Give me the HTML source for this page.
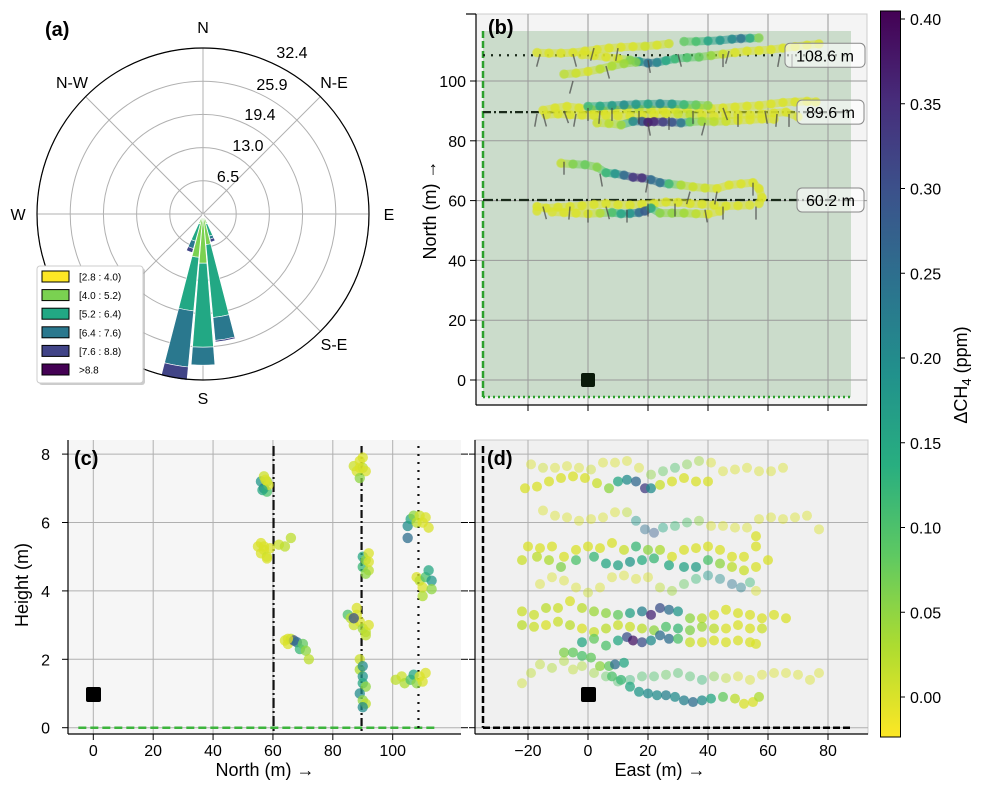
<!DOCTYPE html>
<html><head><meta charset="utf-8"><style>
body{margin:0;background:#fff;}
svg{display:block;font-family:"Liberation Sans","DejaVu Sans",sans-serif;}
</style></head><body>
<svg id="fig" width="982" height="788" viewBox="0 0 982 788" xmlns="http://www.w3.org/2000/svg">
<defs>
<linearGradient id="cbgrad" x1="0" y1="1" x2="0" y2="0">
<stop offset="0" stop-color="#fde725"/><stop offset="0.125" stop-color="#addc30"/><stop offset="0.25" stop-color="#5ec962"/><stop offset="0.375" stop-color="#28ae80"/><stop offset="0.5" stop-color="#21918c"/><stop offset="0.625" stop-color="#2c728e"/><stop offset="0.75" stop-color="#3b528b"/><stop offset="0.875" stop-color="#472d7b"/><stop offset="1" stop-color="#440154"/>
</linearGradient>
<clipPath id="clipB"><rect x="476" y="14" width="391" height="391"/></clipPath>
<clipPath id="clipC"><rect x="68" y="440" width="393" height="294"/></clipPath>
<clipPath id="clipD"><rect x="475" y="440" width="393" height="294"/></clipPath>
</defs>

<g id="panelA">
<circle cx="203" cy="214" r="166" fill="#fff" stroke="none"/>
<g id="aGrid" stroke="#b0b0b0" stroke-width="1" fill="none"></g>
<g id="aBars"></g>
<circle cx="203" cy="214" r="166" fill="none" stroke="#000" stroke-width="1.2"/>
<text x="45" y="36" font-size="20" font-weight="bold">(a)</text>
<g font-size="16" text-anchor="middle" fill="#000">
<text x="203" y="33">N</text>
<text x="334" y="88">N-E</text>
<text x="389" y="220">E</text>
<text x="334" y="350">S-E</text>
<text x="203" y="404">S</text>
<text x="18" y="220">W</text>
<text x="72" y="88">N-W</text>
</g>
<g id="aRingLabels" font-size="16" text-anchor="middle"></g>
<g>
<rect x="39" y="268" width="106" height="117" rx="3" fill="#aaa" opacity="0.6"/>
<rect x="37" y="266" width="106" height="117" rx="3" fill="#fff" stroke="#ccc"/>
<g id="aLegend" font-size="10"></g>
</g>
</g>

<g id="panelB">
<rect x="476" y="14" width="391" height="391" fill="#f4f4f4" stroke="#cccccc"/>
<rect x="483" y="31" width="368" height="366" fill="#cbdccb"/>
<g id="bGrid" stroke="#999" stroke-width="1"></g>
<g id="bLines"></g>
<g id="bPts" clip-path="url(#clipB)"></g>
<g id="bBarbs" stroke="#444" stroke-width="1.5" opacity="0.7" clip-path="url(#clipB)"></g>
<rect x="581" y="373" width="14" height="14" rx="2" fill="#0a1a0a"/>
<line x1="476" y1="14" x2="476" y2="405" stroke="#000" stroke-width="1.2"/>
<line x1="476" y1="405" x2="867" y2="405" stroke="#000" stroke-width="1.2"/>
<line x1="466" y1="14" x2="476" y2="14" stroke="#000" stroke-width="1.2"/>
<g id="bTicks" font-size="16"></g>
<text x="488" y="34" font-size="20" font-weight="bold">(b)</text>
<g id="bAnn" font-size="16"></g>
<text transform="translate(436,210) rotate(-90)" font-size="18" text-anchor="middle">North (m) →</text>
</g>

<g id="panelC">
<rect x="68" y="440" width="393" height="294" fill="#f6f6f6"/>
<g id="cGrid" stroke="#b0b0b0" stroke-width="1"></g>
<g id="cLines"></g>
<g id="cPts" clip-path="url(#clipC)"></g>
<rect x="86" y="687" width="15" height="15" rx="2" fill="#000"/>
<line x1="68" y1="440" x2="68" y2="734" stroke="#000" stroke-width="1.2"/>
<line x1="68" y1="734" x2="461" y2="734" stroke="#000" stroke-width="1.2"/>
<g id="cTicks" font-size="16"></g>
<text x="74" y="465" font-size="20" font-weight="bold">(c)</text>
<text x="265" y="776" font-size="18" text-anchor="middle">North (m)  →</text>
<text transform="translate(28,585) rotate(-90)" font-size="18" text-anchor="middle">Height (m)</text>
</g>

<g id="panelD">
<rect x="475" y="440" width="393" height="294" fill="#f0f0f0" stroke="#ccc"/>
<g id="dGrid" stroke="#b0b0b0" stroke-width="1"></g>
<g id="dPts" clip-path="url(#clipD)"></g>
<g id="dLines"></g>
<rect x="581" y="687" width="15" height="15" rx="2" fill="#000"/>
<line x1="475" y1="440" x2="475" y2="734" stroke="#000" stroke-width="1.2"/>
<line x1="475" y1="734" x2="868" y2="734" stroke="#000" stroke-width="1.2"/>
<g id="dTicks" font-size="16"></g>
<text x="487" y="465" font-size="20" font-weight="bold">(d)</text>
<text x="660" y="776" font-size="18" text-anchor="middle">East (m)  →</text>
</g>

<g id="cbar">
<rect x="880.5" y="11" width="20" height="726" fill="url(#cbgrad)" stroke="#000" stroke-width="1"/>
<g id="cbTicks" font-size="16"></g>
<text transform="translate(967,375) rotate(-90)" font-size="18" text-anchor="middle">ΔCH<tspan font-size="13" dy="4">4</tspan><tspan dy="-4"> (ppm)</tspan></text>
</g>
</svg>
<script>
const roseDirs = [160, 170, 180, 190, 200];
const roseBins = ["[2.8 : 4.0)", "[4.0 : 5.2)", "[5.2 : 6.4)", "[6.4 : 7.6)", "[7.6 : 8.8)", ">8.8"];
const roseFreq160 = [0.5, 1.5, 2.5, 0.6, 0.6, 0];
const roseFreq170 = [0.5, 5.5, 14.3, 4.5, 0.3, 0];
const roseFreq180 = [0.5, 9.1, 16.4, 3.5, 0, 0];
const roseFreq190 = [0.5, 8.0, 10.5, 11.0, 2.6, 0];
const roseFreq200 = [0.5, 1.5, 3.5, 1.5, 0.8, 0];
const roseRingTicks = ["6.5", "13.0", "19.4", "25.9", "32.4"];
const roseRingValues = [6.48, 12.96, 19.44, 25.92, 32.4];

const bTickLabelsY = [0, 20, 40, 60, 80, 100];
const eastTicks = [-20, 0, 20, 40, 60, 80];
const northTicks = [0, 20, 40, 60, 80, 100];
const heightTicks = [0, 2, 4, 6, 8];
const cbTicks = [0.00, 0.05, 0.10, 0.15, 0.20, 0.25, 0.30, 0.35, 0.40];
const transectNorths = [108.6, 89.6, 60.2];
const transectLabels = ["108.6 m", "89.6 m", "60.2 m"];

const trackB1 = [[-17,109.5,0],[-13,109.3,0],[-9,109.3,0],[-5,109.5,0],[-1,110,0],[3,110.5,0],[7,111,0],[11,111.3,0],[15,111.5,0],[19,111.6,0.01],[23,112,0],[27,112.5,0.01]];
const trackB2 = [[32,113.2,0.08],[36,113.2,0.1],[40,113.4,0.15],[44,113.6,0.18],[48,114,0.2],[51,114.2,0.25],[54,114.3,0.15],[57,114.4,0.05]];
const trackB3 = [[-2,108.8,0],[2,108.5,0],[6,108,0],[10,107.5,0],[14,107,0.05],[17,106.5,0.18],[20,106,0.25],[23,106.2,0.22],[26,106.8,0.15],[29,107.4,0.12],[33,107.8,0.1],[37,108,0.08],[41,108.5,0.05],[45,109,0.01],[49,109.5,0],[53,110,0],[57,110.2,0],[61,110.5,0],[65,111,0],[69,111.5,0],[73,112,0],[77,112.4,0]];
const trackB4 = [[-8,102.3,0.02],[-4,102.6,0.01],[0,103.2,0],[4,104,0.02],[8,105,0.03],[12,105.8,0.04],[16,106.3,0.06]];
const trackB5 = [[-15,90.2,0],[-11,91,0],[-7,91.5,0],[-3,91,0],[1,90.5,0],[5,90,0],[9,90.3,0],[13,90.6,0],[17,90.6,0.02],[21,90.4,0.01],[25,90.2,0],[29,90.5,0],[33,90.8,0],[37,91,0],[41,90.8,0],[45,91,0],[49,91.3,0],[53,91.6,0],[57,91.8,0],[61,92.3,0],[65,92.8,0],[69,93,0],[73,93.2,0],[76,93,0]];
const trackB6 = [[-14,88.7,0],[-10,89,0],[-6,88.7,0],[-2,88.6,0],[2,88.5,0],[6,88.5,0],[10,88.3,0],[14,88.2,0],[18,88.5,0],[22,88.8,0],[26,89,0],[30,89,0.01],[34,88.8,0.02],[38,88.5,0],[42,88.2,0],[46,88.6,0],[50,88.8,0],[54,88.7,0],[58,89,0],[62,89.3,0],[66,89.6,0],[70,88,0]];
const trackB7 = [[0,91.5,0.12],[4,91.6,0.15],[8,91.8,0.17],[12,92,0.2],[16,92.2,0.18],[20,92.3,0.15],[24,92.4,0.2],[28,92.3,0.18],[32,92.1,0.12],[36,92,0.08],[40,91.8,0.05]];
const trackB8 = [[3,86,0.01],[7,85.8,0.02],[11,85.3,0.03],[15,86.5,0.2],[18,86.5,0.28],[20,86.2,0.38],[22,86.4,0.36],[25,86.3,0.33],[28,86.2,0.3],[31,86,0.25],[34,86.3,0.08],[38,86.5,0.04],[42,86.4,0.02],[46,86.5,0.01],[50,86.8,0],[54,87,0],[58,87.3,0],[62,87.2,0]];
const trackB9 = [[-9,72.5,0.01],[-5,72.2,0.06],[-1,72,0.08],[3,71.2,0.05],[6,69.3,0.12],[9,69,0.18],[12,68.5,0.25],[15,67.8,0.34],[18,67.6,0.36],[21,67,0.25],[24,66,0.26],[27,65.6,0.12],[31,65.2,0.03],[35,64.6,0.01],[39,64.2,0.01],[43,64,0],[47,65.2,0],[51,65.6,0],[55,66,0],[57,64,0],[58,61,0],[57,59,0]];
const trackB10 = [[54,58.5,0],[50,58.3,0],[46,58.2,0],[42,58.5,0],[38,58.8,0],[34,59,0],[30,59.4,0],[26,59.5,0],[22,59,0],[18,58.8,0],[14,58.5,0],[10,58.6,0],[6,59,0],[2,58.7,0],[-2,58.3,0],[-6,58,0],[-10,57.8,0],[-14,57.5,0],[-17,58,0],[-17,56.5,0]];
const trackB11 = [[-12,56.2,0],[-8,56,0],[-4,55.8,0],[0,55.6,0],[4,55.8,0.02],[8,56,0.1],[11,55.6,0.15],[14,55.7,0.18],[17,56,0.25],[19,56.5,0.3],[21,57.5,0.15],[24,55.8,0.05],[28,55.8,0.05],[32,55.8,0.04],[36,55.6,0.02],[40,55.5,0],[44,56.5,0]];
const barbs = [[-16,109,15],[-5,109,-15],[2,111,15],[10,111,10],[20,107,-10],[30,109,-15],[45,109,0],[47,110,15],[64,109,10],[68,109,0],[-5,100,15],[6,105,-15],[-17,89,10],[-15,89,-15],[-8,90,-20],[-4,89,10],[0,91,0],[4,90,5],[8,91,0],[17,90,0],[20,86,-10],[27,88,0],[35,90,0],[39,86,15],[45,91,-20],[50,89,0],[59,90,-10],[63,89,5],[67,89,0],[-8,73,0],[4,69,-10],[20,67,10],[34,63,15],[43,63,10],[55,66,0],[-15,58,-15],[-6,58,5],[0,57,0],[6,58,-15],[13,57,0],[20,59,0],[29,59,0],[39,57,-10],[45,58,0],[56,58,0]];

const clusterC = [
[56,7.2,0.18],[57,7.0,0.25],[58,7.2,0.05],[58,6.9,0.1],[57,7.35,0.01],[58.5,7.1,0],[56.5,6.95,0.15],[57.5,7.25,0],
[55,5.3,0],[56,5.1,0],[57,5.2,0],[58,5.0,0.01],[56,5.4,0],[59,5.25,0],[62,5.35,0.01],[64,5.3,0.02],[66,5.55,0.02],[58,4.95,0],[57,5.3,0],
[64,2.55,0],[65,2.45,0],[66,2.6,0.02],[67,2.55,0.3],[68,2.5,0.25],[69,2.3,0.12],[70,2.45,0.08],[71,2.25,0.05],[72,2.0,0.02],[65,2.6,0],
[87,7.65,0.01],[88,7.5,0],[89,7.8,0],[90,7.6,0.02],[91,7.5,0],[89,7.3,0.05],[90,7.9,0],[89,7.6,0],
[85,3.3,0.1],[86,3.2,0.02],[87,3.0,0.01],[88,3.3,0],[89,3.1,0],[90,2.9,0.04],[91,2.8,0.02],[92,3.0,0],[88,3.5,0],[91,2.7,0.02],[87,3.2,0.3],
[90,5.0,0.15],[90,4.7,0.12],[91,4.9,0.05],[92,4.6,0.02],[92,5.1,0],[91,4.5,0.05],[92,4.85,0],
[89,2.0,0.01],[89,1.7,0.03],[90,1.8,0.2],[90,1.5,0.18],[90,1.3,0.15],[91,1.2,0.05],[89,1.0,0.2],[90,0.8,0.05],[91,0.7,0.02],[90,0.6,0.2],
[105,5.9,0.2],[106,6.1,0.15],[107,6.2,0.05],[108,6.0,0.02],[109,6.2,0.01],[110,6.0,0],[111,6.15,0],[112,5.85,0],[105,5.55,0.25],
[108,4.4,0],[109,4.3,0.02],[110,4.1,0],[111,4.4,0.1],[112,4.6,0.15],[113,4.3,0.18],[113,4.05,0.05],[110,3.85,0.03],
[101,1.4,0.02],[103,1.5,0.01],[104,1.3,0.03],[106,1.4,0.1],[107,1.55,0.15],[108,1.3,0.05],[109,1.5,0],[110,1.35,0],[111,1.6,0]];

const trackD1 = [[-19,7.7,0],[-15,7.6,0.01],[-11,7.6,0],[-7,7.65,0],[-3,7.6,0],[1,7.55,0.01],[5,7.75,0],[9,7.75,0],[13,7.8,0],[17,7.6,0],[21,7.4,0.05],[25,7.5,0.08],[29,7.6,0.1],[33,7.7,0.06],[37,7.8,0.04],[41,7.75,0],[45,7.5,0],[49,7.55,0],[53,7.6,0],[57,7.5,0],[61,7.5,0],[65,7.6,0]];
const trackD2 = [[-21,7.0,0],[-17,7.05,0],[-13,7.2,0],[-9,7.3,0],[-5,7.35,0],[-1,7.3,0],[3,7.15,0.01],[7,7.0,0.05],[10,7.2,0.15],[13,7.25,0.2],[16,7.2,0.26],[19,7.0,0.33],[21,7.0,0.2],[24,7.1,0.01],[28,7.2,0],[32,7.3,0],[36,7.2,0],[40,7.2,0]];
const trackD3 = [[-15,6.35,0],[-11,6.2,0],[-7,6.15,0],[-3,6.05,0],[1,6.1,0],[5,6.15,0],[9,6.3,0],[13,6.3,0.02],[16,6.05,0.18],[19,5.8,0.25],[22,5.7,0.28],[25,5.85,0.15],[29,5.9,0.12],[33,6.0,0.1],[37,6.05,0.05],[41,5.9,0],[45,5.9,0],[49,5.85,0],[53,5.85,0],[57,6.1,0],[61,6.15,0],[65,6.1,0],[69,6.15,0],[73,6.2,0],[77,5.8,0]];
const trackD4 = [[-20,5.3,0],[-16,5.25,0],[-12,5.3,0],[-8,5.0,0],[-4,5.2,0],[0,5.3,0],[4,5.25,0],[8,5.4,0],[12,5.2,0.01],[16,5.3,0.12],[20,5.2,0.05],[24,5.2,0.03],[28,5.0,0],[32,5.2,0],[36,5.25,0],[40,5.3,0],[44,5.2,0],[48,5.0,0],[52,5.0,0],[56,5.3,0],[56,5.6,0]];
const trackD5 = [[-22,4.9,0.01],[-17,5.0,0.02],[-13,4.9,0.03],[-9,4.7,0.06],[-4,4.9,0.1],[2,5.0,0.12],[6,4.8,0.15],[10,4.75,0.16],[14,4.85,0.18],[18,4.9,0.14],[22,4.95,0.12],[27,4.75,0.15],[32,4.7,0.16],[36,4.7,0.17],[40,4.9,0.1],[44,4.8,0.05],[48,4.7,0.02],[52,4.6,0.01],[56,4.7,0],[60,4.9,0]];
const trackD6 = [[-16,4.2,0],[-12,4.4,0],[-8,4.3,0],[-4,4.1,0],[0,3.95,0.01],[4,4.1,0],[8,4.4,0],[12,4.45,0],[16,4.35,0],[20,4.4,0],[24,4.1,0.02],[28,4.0,0.04],[32,4.2,0.08],[36,4.35,0.12],[40,4.45,0.18],[44,4.35,0.2],[48,4.2,0.24],[51,4.1,0.22],[54,4.25,0.12],[56,4.0,0]];
const trackD7 = [[-22,3.4,0.01],[-18,3.3,0.01],[-14,3.5,0.02],[-10,3.5,0.01],[-6,3.7,0],[-2,3.5,0.02],[2,3.4,0.04],[6,3.35,0.05],[10,3.3,0.08],[14,3.35,0.16],[18,3.4,0.22],[21,3.3,0.36],[24,3.5,0.3],[27,3.45,0.25],[30,3.4,0.18],[34,3.2,0.05],[38,3.2,0.02],[42,3.3,0],[46,3.45,0],[50,3.35,0],[54,3.3,0],[58,3.2,0],[62,3.3,0],[66,3.2,0]];
const trackD8 = [[-22,3.0,0.02],[-18,2.95,0.01],[-14,3.0,0],[-10,3.1,0.01],[-6,3.0,0.02],[-2,2.9,0],[2,2.8,0.01],[6,2.9,0.02],[10,3.0,0.01],[14,2.95,0.01],[18,2.9,0.02],[22,2.85,0.05],[26,2.95,0.1],[30,2.9,0.12],[34,2.85,0.06],[38,2.95,0.04],[42,2.9,0.02],[46,2.9,0],[50,3.0,0],[54,2.9,0],[58,2.9,0.01]];
const trackD9 = [[-2,2.5,0.15],[2,2.6,0.08],[6,2.4,0.1],[10,2.55,0.15],[13,2.65,0.3],[15,2.55,0.38],[18,2.5,0.3],[21,2.55,0.2],[24,2.7,0.25],[27,2.6,0.25],[30,2.6,0.1],[34,2.5,0.01],[38,2.5,0],[42,2.55,0],[46,2.5,0],[50,2.55,0],[54,2.5,0],[56,2.45,0]];
const trackD10 = [[-8,2.2,0.06],[-5,2.2,0.08],[-2,2.1,0.1],[1,2.05,0.08],[4,1.8,0.05],[7,1.8,0.08],[9,1.85,0.25],[12,1.9,0.15]];
const trackD11 = [[-22,1.3,0.01],[-19,1.6,0.02],[-16,1.85,0.02],[-12,1.75,0.03],[-8,1.95,0.03],[-5,1.7,0.02],[-2,1.8,0.03],[2,1.6,0.04],[6,1.5,0.08],[10,1.35,0.1],[14,1.4,0.12],[18,1.5,0.1],[22,1.5,0.1],[26,1.55,0.08],[30,1.6,0.1],[34,1.5,0.1],[38,1.4,0.12],[42,1.5,0.06],[46,1.45,0.02],[50,1.5,0],[54,1.4,0],[58,1.55,0],[62,1.6,0],[66,1.6,0],[70,1.55,0],[74,1.4,0],[77,1.6,0]];
const trackD12 = [[8,1.5,0.1],[11,1.4,0.12],[14,1.2,0.15],[17,1.05,0.18],[20,1.0,0.2],[23,0.95,0.2],[26,0.95,0.22],[29,0.9,0.2],[32,0.8,0.22],[35,0.75,0.25],[38,0.8,0.2],[41,0.85,0.15],[45,0.9,0.08],[49,0.85,0.02],[52,0.7,0],[55,0.75,0],[57,0.9,0.03]];

const NS = "http://www.w3.org/2000/svg";
function mk(tag, attrs, parent) { const e = document.createElementNS(NS, tag); for (const k in attrs) e.setAttribute(k, attrs[k]); parent.appendChild(e); return e; }
const VIR = ["#440154","#472d7b","#3b528b","#2c728e","#21918c","#28ae80","#5ec962","#addc30","#fde725"];
function hx(c){return [parseInt(c.substr(1,2),16),parseInt(c.substr(3,2),16),parseInt(c.substr(5,2),16)];}
const VMIN = -0.0236, VMAX = 0.4047;
function cmap(v) {
  let t = 1 - (v - VMIN) / (VMAX - VMIN); t = Math.max(0, Math.min(1, t));
  const p = t * 8, i = Math.min(7, Math.floor(p)), f = p - i;
  const a = hx(VIR[i]), b = hx(VIR[i + 1]);
  return "rgb(" + a.map((x, k) => Math.round(x + (b[k] - x) * f)).join(",") + ")";
}
const bx = e => 588 + 3 * e, by = n => 380 - 2.99 * n;
const cx = n => 93.3 + 2.994 * n, cy = h => 727.7 - 34.2 * h;
const dx = e => 588 + 3 * e, dy = h => 727.7 - 34.2 * h;
const cbY = v => 697 - 1695 * v;

const A0x = 203, A0y = 214, AS = 166 / 32.4;
const aGrid = document.getElementById("aGrid");
roseRingValues.forEach(r => { mk("circle", {cx: A0x, cy: A0y, r: r * AS}, aGrid); });
for (let k = 0; k < 8; k++) { const a = k * Math.PI / 4; mk("line", {x1: A0x, y1: A0y, x2: A0x + 166 * Math.sin(a), y2: A0y - 166 * Math.cos(a)}, aGrid); }
const rlPos = [[228,182],[248,151],[260,120],[272,90],[292,58]];
const aRL = document.getElementById("aRingLabels");
roseRingTicks.forEach((t, i) => { const el = mk("text", {x: rlPos[i][0], y: rlPos[i][1]}, aRL); el.textContent = t;
  
   });
const roseColors = ["#fde725","#7ad151","#22a884","#2a788e","#414487","#440154"];
const roseFreqs = [roseFreq160, roseFreq170, roseFreq180, roseFreq190, roseFreq200];
const aBars = document.getElementById("aBars");
function pt(r, deg) { const a = deg * Math.PI / 180; return [A0x + r * Math.sin(a), A0y - r * Math.cos(a)]; }
roseDirs.forEach((d, i) => {
  let cum = 0;
  roseFreqs[i].forEach((f, j) => {
    if (f <= 0) return;
    const r0 = cum * AS, r1 = (cum + f) * AS; cum += f;
    const a0 = d - 4.5, a1 = d + 4.5;
    const p1 = pt(r0, a0), p2 = pt(r1, a0), p3 = pt(r1, a1), p4 = pt(r0, a1);
    const path = `M${p1}L${p2}A${r1},${r1} 0 0 1 ${p3}L${p4}A${r0},${r0} 0 0 0 ${p1}Z`;
    const el = mk("path", {d: path, fill: roseColors[j], stroke: "#fff", "stroke-width": 0.6}, aBars);
    
    
  });
});
const aLeg = document.getElementById("aLegend");
roseBins.forEach((b, j) => {
  const y = 271 + j * 18.6;
  const r = mk("rect", {x: 42, y: y, width: 27, height: 11, fill: roseColors[j], stroke: "#000", "stroke-width": 1}, aLeg);
  
  
  const t = mk("text", {x: 79, y: y + 9.5}, aLeg); t.textContent = b;
  
  
});

const bGrid = document.getElementById("bGrid");
eastTicks.forEach(e => mk("line", {x1: bx(e), y1: 14, x2: bx(e), y2: 405}, bGrid));
bTickLabelsY.forEach(n => mk("line", {x1: 476, y1: by(n), x2: 867, y2: by(n)}, bGrid));
const bLines = document.getElementById("bLines");
mk("line", {x1: 483, y1: 31, x2: 483, y2: 397, stroke: "#2ca02c", "stroke-width": 2.5, "stroke-dasharray": "7,3"}, bLines);
mk("line", {x1: 483, y1: 397, x2: 851, y2: 397, stroke: "#2ca02c", "stroke-width": 2.5, "stroke-dasharray": "2,3"}, bLines);
const dashes = ["2,6", "8,3,2,3", "10,3,2,3"];
transectNorths.forEach((n, i) => {
  const l = mk("line", {x1: 483, y1: by(n), x2: 851, y2: by(n), stroke: "#1a2a1a", "stroke-width": 2.2, "stroke-dasharray": dashes[i]}, bLines);
  
  
});
const bPts = document.getElementById("bPts");
[trackB1,trackB2,trackB3,trackB4,trackB5,trackB6,trackB7,trackB8,trackB9,trackB10,trackB11].forEach(tr => {
  for (let k = 1; k < tr.length; k++) {
    const a = tr[k-1], b = tr[k];
    const s = mk("line", {x1: bx(a[0]), y1: by(a[1]), x2: bx(b[0]), y2: by(b[1]), stroke: cmap((a[2]+b[2])/2), "stroke-width": 8, "stroke-opacity": 0.55, "stroke-linecap": "round"}, bPts);
    
    
  }
  tr.forEach(p => {
    const c = mk("circle", {cx: bx(p[0]), cy: by(p[1]), r: 4.8, fill: cmap(p[2]), "fill-opacity": 0.6}, bPts);
    
    
  });
});
const bBarbs = document.getElementById("bBarbs");
barbs.forEach(b => {
  const x = bx(b[0]), y = by(b[1]), a = b[2] * Math.PI / 180;
  const l = mk("line", {x1: x, y1: y, x2: x - 13 * Math.sin(a), y2: y + 13 * Math.cos(a)}, bBarbs);
  
  
});
const bTicks = document.getElementById("bTicks");
bTickLabelsY.forEach(n => {
  mk("line", {x1: 470, y1: by(n), x2: 476, y2: by(n), stroke: "#000"}, bTicks);
  const t = mk("text", {x: 466, y: by(n) + 6, "text-anchor": "end"}, bTicks); t.textContent = n;
  
  
});
eastTicks.forEach(e => mk("line", {x1: bx(e), y1: 405, x2: bx(e), y2: 411, stroke: "#000"}, bTicks));
const bAnn = document.getElementById("bAnn");
const annX = [785, 797, 797], annW = [80, 67, 67];
transectNorths.forEach((n, i) => {
  const y = by(n) - 12;
  const r = mk("rect", {x: annX[i], y: y, width: annW[i], height: 24, rx: 5, fill: "#fff", "fill-opacity": 0.6, stroke: "#888"}, bAnn);
  
  
  const t = mk("text", {x: annX[i] + annW[i] / 2, y: y + 18, "text-anchor": "middle"}, bAnn); t.textContent = transectLabels[i];
  
  
});

const cGrid = document.getElementById("cGrid");
northTicks.forEach(n => mk("line", {x1: cx(n), y1: 440, x2: cx(n), y2: 734}, cGrid));
heightTicks.forEach(h => mk("line", {x1: 68, y1: cy(h), x2: 461, y2: cy(h)}, cGrid));
const cLines = document.getElementById("cLines");
mk("line", {x1: cx(-5), y1: cy(0), x2: cx(115), y2: cy(0), stroke: "#3cb43c", "stroke-width": 2.5, "stroke-dasharray": "8,4"}, cLines);
transectNorths.forEach((n, i) => {
  const l = mk("line", {x1: cx(n), y1: 446, x2: cx(n), y2: 733, stroke: "#111", "stroke-width": 2.2, "stroke-dasharray": dashes[i]}, cLines);
  
  
});
const cPts = document.getElementById("cPts");
clusterC.forEach(p => {
  const c = mk("circle", {cx: cx(p[0]), cy: cy(p[1]), r: 5.2, fill: cmap(p[2]), "fill-opacity": 0.75}, cPts);
  
  
});
const cTicks = document.getElementById("cTicks");
heightTicks.forEach(h => {
  mk("line", {x1: 62, y1: cy(h), x2: 68, y2: cy(h), stroke: "#000"}, cTicks);
  mk("line", {x1: 461, y1: cy(h), x2: 468, y2: cy(h), stroke: "#000"}, cTicks);
  const t = mk("text", {x: 50, y: cy(h) + 6, "text-anchor": "end"}, cTicks); t.textContent = h;
  
  
});
northTicks.forEach(n => {
  mk("line", {x1: cx(n), y1: 734, x2: cx(n), y2: 740, stroke: "#000"}, cTicks);
  const t = mk("text", {x: cx(n), y: 756, "text-anchor": "middle"}, cTicks); t.textContent = n;
  
  
});

const dGrid = document.getElementById("dGrid");
eastTicks.forEach(e => mk("line", {x1: dx(e), y1: 440, x2: dx(e), y2: 734}, dGrid));
heightTicks.forEach(h => mk("line", {x1: 475, y1: dy(h), x2: 868, y2: dy(h)}, dGrid));
const dPts = document.getElementById("dPts");
const dBold = [trackD2, trackD4, trackD5, trackD7, trackD8, trackD9, trackD10, trackD12];
const dLight = [trackD1, trackD3, trackD6, trackD11];
dLight.forEach(tr => tr.forEach(p => {
  const c = mk("circle", {cx: dx(p[0]), cy: dy(p[1]), r: 5, fill: cmap(p[2]), "fill-opacity": 0.45}, dPts);
  
  
}));
dBold.forEach(tr => tr.forEach(p => {
  const c = mk("circle", {cx: dx(p[0]), cy: dy(p[1]), r: 5, fill: cmap(p[2]), "fill-opacity": 0.75}, dPts);
  
  
}));
const dLines = document.getElementById("dLines");
mk("line", {x1: 483, y1: 446, x2: 483, y2: dy(0), stroke: "#000", "stroke-width": 2.5, "stroke-dasharray": "7,3"}, dLines);
mk("line", {x1: 483, y1: dy(0), x2: 851, y2: dy(0), stroke: "#000", "stroke-width": 2.5, "stroke-dasharray": "7,3"}, dLines);
const dTicks = document.getElementById("dTicks");
heightTicks.forEach(h => mk("line", {x1: 469, y1: dy(h), x2: 475, y2: dy(h), stroke: "#000"}, dTicks));
eastTicks.forEach(e => {
  mk("line", {x1: dx(e), y1: 734, x2: dx(e), y2: 740, stroke: "#000"}, dTicks);
  const t = mk("text", {x: dx(e), y: 756, "text-anchor": "middle"}, dTicks); t.textContent = e < 0 ? "−" + (-e) : e;
  
  
});

const cbT = document.getElementById("cbTicks");
cbTicks.forEach(v => {
  mk("line", {x1: 900.5, y1: cbY(v), x2: 905, y2: cbY(v), stroke: "#000"}, cbT);
  const t = mk("text", {x: 910, y: cbY(v) + 6}, cbT); t.textContent = v.toFixed(2);
  
  
});
</script>
</body></html>
